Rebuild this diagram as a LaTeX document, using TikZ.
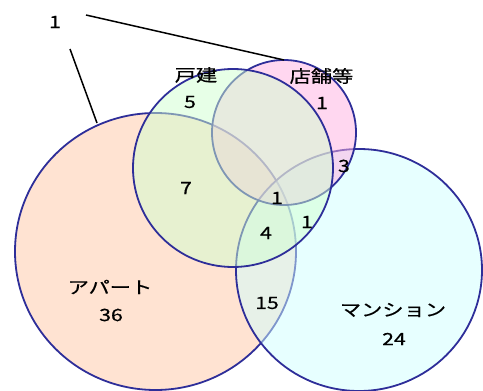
\documentclass[tikz,border=0pt]{standalone}
\usepackage{fontspec}
\setmainfont{Noto Sans CJK JP}[FakeStretch=1.25,FakeBold=0.6]
\begin{document}
\begin{tikzpicture}[x=1pt,y=-1pt,
  setshape/.style={draw=setline,line width=1.8pt,fill opacity=0.5},
  lbl/.style={inner sep=0pt,font=\fontsize{17}{17}\selectfont},
  leader/.style={draw=black,line width=1.5pt}]
\definecolor{setline}{HTML}{2E2E99}
\definecolor{apfill}{RGB}{255,200,165}
\definecolor{kdfill}{RGB}{208,255,208}
\definecolor{tpfill}{RGB}{255,175,225}
\definecolor{msfill}{RGB}{208,255,255}
\useasboundingbox (0,0) rectangle (483,391);
% sets
\path[setshape,fill=apfill] (155.5,251.5) ellipse [x radius=140.5,y radius=138.5];
\path[setshape,fill=msfill] (359,270) ellipse [x radius=123,y radius=121];
\path[setshape,fill=tpfill] (284,132.5) ellipse [x radius=72,y radius=72.5];
\path[setshape,fill=kdfill] (233,168) ellipse [x radius=100,y radius=99];
% anchor points for leader lines
\coordinate (aptop) at (97,123);
\coordinate (tptop) at (284,60);
% labels
\node[lbl] (out) at (55,22) {1};
\coordinate (outR) at (86,15);
\coordinate (outB) at (70,49);
\draw[leader] (outR) -- (tptop);
\draw[leader] (outB) -- (aptop);
\node[lbl] (kdname) at (196,75) {戸建};
\node[lbl] (kd) at (190,102) {5};
\node[lbl] (tpname) at (321.5,76) {店舗等};
\node[lbl] (tp) at (322,103) {1};
\node[lbl] (tpms) at (344,166) {3};
\node[lbl] (apkd) at (186,188) {7};
\node[lbl] (all) at (277,198) {1};
\node[lbl] (kdms) at (307,222) {1};
\node[lbl] (apkdms) at (266,233) {4};
\node[lbl] (apname) at (110,287) {アパート};
\node[lbl] (ap) at (111,315) {36};
\node[lbl] (apms) at (267,303) {15};
\node[lbl] (msname) at (393,310) {マンション};
\node[lbl] (ms) at (394,339) {24};
\end{tikzpicture}
\end{document}
